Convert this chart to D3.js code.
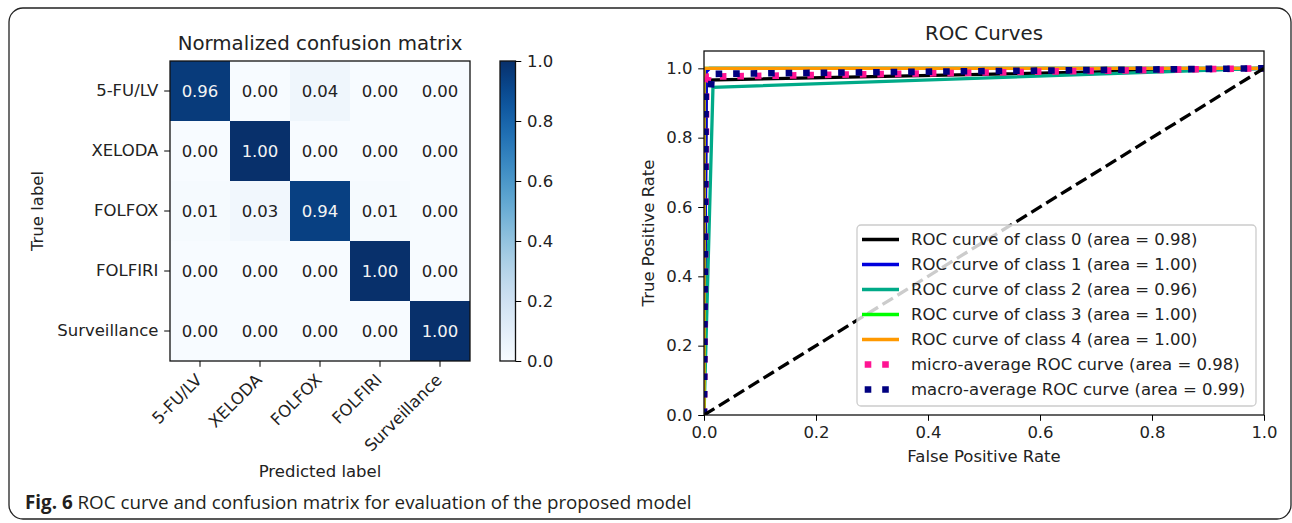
<!DOCTYPE html>
<html>
<head>
<meta charset="utf-8">
<script src="https://cdn.jsdelivr.net/npm/d3@7"></script>
<style>
  body { margin: 0; background: #fff; }
  svg { display: block; }
  text { font-family: "DejaVu Sans", sans-serif; fill: #222; }
</style>
</head>
<body>
<svg id="chart" width="1292" height="523"></svg>
<script>
// confusion matrix data
const classes = ["5-FU/LV", "XELODA", "FOLFOX", "FOLFIRI", "Surveillance"];
const cmValues = [
    [0.96, 0.00, 0.04, 0.00, 0.00],
    [0.00, 1.00, 0.00, 0.00, 0.00],
    [0.01, 0.03, 0.94, 0.01, 0.00],
    [0.00, 0.00, 0.00, 1.00, 0.00],
    [0.00, 0.00, 0.00, 0.00, 1.00]
];
const colorbarTicks = [0, 0.2, 0.4, 0.6, 0.8, 1.0];

// ROC curves, [fpr, tpr] points
const rocClass0 = [[0, 0], [0.004, 0.966], [1, 1]];
const rocClass1 = [[0, 0], [0.004, 0.99], [0.01, 1], [1, 1]];
const rocClass2 = [[0, 0], [0.016, 0.945], [1, 1]];
const rocClass3 = [[0, 0], [0, 1], [1, 1]];
const rocClass4 = [[0, 0], [0, 1], [1, 1]];
const rocMicro = [[0, 0], [0.004, 0.95], [0.008, 0.976], [1, 1]];
const rocMacro = [[0, 0], [0.003, 0.93], [0.012, 0.93], [0.014, 0.984], [1, 1]];
const rocLabels = [
    "ROC curve of class 0 (area = 0.98)",
    "ROC curve of class 1 (area = 1.00)",
    "ROC curve of class 2 (area = 0.96)",
    "ROC curve of class 3 (area = 1.00)",
    "ROC curve of class 4 (area = 1.00)",
    "micro-average ROC curve (area = 0.98)",
    "macro-average ROC curve (area = 0.99)"
];
const rocTicks = [0, 0.2, 0.4, 0.6, 0.8, 1.0];

const svg = d3.select("#chart");
const fs = 16.5, tick = 5.8;

// outer figure frame + caption
svg.append("rect")
    .attr("x", 9).attr("y", 8)
    .attr("width", 1282).attr("height", 511)
    .attr("rx", 14)
    .attr("fill", "none")
    .attr("stroke", "#222")
    .attr("stroke-width", 1.3);

const caption = svg.append("text")
    .attr("x", 25).attr("y", 509)
    .style("font-family", "'Open Sans', sans-serif")
    .style("font-size", "18.8px")
    .style("fill", "#231f20");
caption.append("tspan").attr("font-weight", "bold").text("Fig. 6");
caption.append("tspan").text(" ROC curve and confusion matrix for evaluation of the proposed model");

// ---------- Part 1: confusion matrix ----------
const cm = svg.append("g");
const xCM = d3.scaleBand().domain(classes).range([170, 470]);
const yCM = d3.scaleBand().domain(classes).range([61, 361]);
const blues = d3.scaleSequential(d3.interpolateBlues).domain([0, 1]);

const cells = [];
cmValues.forEach((row, i) => row.forEach((v, j) => cells.push({r: classes[i], c: classes[j], v: v})));

cm.selectAll("rect.cell")
    .data(cells)
    .enter()
    .append("rect")
    .attr("class", "cell")
    .attr("x", d => xCM(d.c))
    .attr("y", d => yCM(d.r))
    .attr("width", xCM.bandwidth())
    .attr("height", yCM.bandwidth())
    .attr("fill", d => blues(d.v));

cm.selectAll("text.val")
    .data(cells)
    .enter()
    .append("text")
    .attr("class", "val")
    .attr("x", d => xCM(d.c) + xCM.bandwidth() / 2)
    .attr("y", d => yCM(d.r) + yCM.bandwidth() / 2)
    .attr("text-anchor", "middle")
    .attr("dominant-baseline", "central")
    .style("font-size", fs + "px")
    .style("fill", d => d.v > 0.5 ? "#f4f4f4" : "#222")
    .text(d => d.v.toFixed(2));

cm.append("rect")
    .attr("x", 170).attr("y", 61).attr("width", 300).attr("height", 300)
    .attr("fill", "none").attr("stroke", "#111").attr("stroke-width", 1.3);

const cmLeft = cm.append("g")
    .attr("transform", "translate(170,0)")
    .call(d3.axisLeft(yCM).tickSize(tick).tickPadding(tick));
cmLeft.select(".domain").remove();
cmLeft.selectAll("text").style("font-size", fs + "px").style("font-family", "DejaVu Sans").attr("fill", "#222");

const cmBottom = cm.append("g")
    .attr("transform", "translate(0,361)")
    .call(d3.axisBottom(xCM).tickSize(tick).tickPadding(tick));
cmBottom.select(".domain").remove();
cmBottom.selectAll("text")
    .style("font-size", fs + "px").style("font-family", "DejaVu Sans").attr("fill", "#222")
    .attr("text-anchor", "end")
    .attr("dy", null)
    .attr("y", null)
    .attr("transform", "translate(3,20) rotate(-45)");

cm.append("text")
    .attr("x", 320).attr("y", 50)
    .attr("text-anchor", "middle")
    .style("font-size", "19.8px")
    .text("Normalized confusion matrix");

cm.append("text")
    .attr("x", 320).attr("y", 477)
    .attr("text-anchor", "middle")
    .style("font-size", fs + "px")
    .text("Predicted label");

cm.append("text")
    .attr("transform", "translate(43,211) rotate(-90)")
    .attr("text-anchor", "middle")
    .style("font-size", fs + "px")
    .text("True label");

// colorbar
const defs = svg.append("defs");
const grad = defs.append("linearGradient")
    .attr("id", "cbar").attr("x1", 0).attr("y1", 1).attr("x2", 0).attr("y2", 0);
d3.range(0, 1.0001, 0.05).forEach(t => {
    grad.append("stop").attr("offset", t).attr("stop-color", blues(t));
});
const yBar = d3.scaleLinear().domain([0, 1]).range([361, 61]);
svg.append("rect")
    .attr("x", 500).attr("y", 61).attr("width", 15.5).attr("height", 300)
    .attr("fill", "url(#cbar)").attr("stroke", "#111").attr("stroke-width", 1.3);
const barAxis = svg.append("g")
    .attr("transform", "translate(515.5,0)")
    .call(d3.axisRight(yBar).tickValues(colorbarTicks).tickFormat(d3.format(".1f")).tickSize(tick).tickPadding(tick));
barAxis.select(".domain").remove();
barAxis.selectAll("text").style("font-size", fs + "px").style("font-family", "DejaVu Sans").attr("fill", "#222");

// ---------- Part 2: ROC curves ----------
const x = d3.scaleLinear().domain([0, 1]).range([704, 1264]);
const y = d3.scaleLinear().domain([0, 1.05]).range([415, 51]);

defs.append("clipPath").attr("id", "plotclip")
    .append("rect").attr("x", 704).attr("y", 51).attr("width", 560).attr("height", 364);

const line = d3.line().x(d => x(d[0])).y(d => y(d[1]));

const series = [
    {data: rocClass0, color: "#000000", width: 3.3, dash: null},
    {data: rocClass1, color: "#0000dd", width: 3.3, dash: null},
    {data: rocClass2, color: "#00aa88", width: 3.3, dash: null},
    {data: rocClass3, color: "#00ff00", width: 3.3, dash: null},
    {data: rocClass4, color: "#ff9900", width: 3.3, dash: null},
    {data: rocMicro, color: "#ff1493", width: 6.6, dash: "6.6,10.9"},
    {data: rocMacro, color: "#000080", width: 6.6, dash: "6.6,10.9"}
];

const plot = svg.append("g").attr("clip-path", "url(#plotclip)");
series.forEach(s => {
    plot.append("path")
        .datum(s.data)
        .attr("fill", "none")
        .attr("stroke", s.color)
        .attr("stroke-width", s.width)
        .attr("stroke-dasharray", s.dash)
        .attr("d", line);
});

// chance diagonal
plot.append("path")
    .datum([[0, 0], [1, 1]])
    .attr("fill", "none")
    .attr("stroke", "#000")
    .attr("stroke-width", 3.3)
    .attr("stroke-dasharray", "12.2,5.3")
    .attr("d", line);

svg.append("rect")
    .attr("x", 704).attr("y", 51).attr("width", 560).attr("height", 364)
    .attr("fill", "none").attr("stroke", "#111").attr("stroke-width", 1.3);

const xAxis = svg.append("g")
    .attr("transform", "translate(0,415)")
    .call(d3.axisBottom(x).tickValues(rocTicks).tickFormat(d3.format(".1f")).tickSize(tick).tickPadding(tick));
xAxis.select(".domain").remove();
xAxis.selectAll("text").style("font-size", fs + "px").style("font-family", "DejaVu Sans").attr("fill", "#222");

const yAxis = svg.append("g")
    .attr("transform", "translate(704,0)")
    .call(d3.axisLeft(y).tickValues(rocTicks).tickFormat(d3.format(".1f")).tickSize(tick).tickPadding(tick));
yAxis.select(".domain").remove();
yAxis.selectAll("text").style("font-size", fs + "px").style("font-family", "DejaVu Sans").attr("fill", "#222");

svg.append("text")
    .attr("x", 984).attr("y", 40)
    .attr("text-anchor", "middle")
    .style("font-size", "19.8px")
    .text("ROC Curves");

svg.append("text")
    .attr("x", 984).attr("y", 462)
    .attr("text-anchor", "middle")
    .style("font-size", fs + "px")
    .text("False Positive Rate");

svg.append("text")
    .attr("transform", "translate(654,233) rotate(-90)")
    .attr("text-anchor", "middle")
    .style("font-size", fs + "px")
    .text("True Positive Rate");

// legend, lower right
const legend = svg.append("g").attr("transform", "translate(857,225)");
legend.append("rect")
    .attr("width", 399).attr("height", 181)
    .attr("rx", 4)
    .attr("fill", "#fff").attr("fill-opacity", 0.8)
    .attr("stroke", "#ccc").attr("stroke-width", 1.3);

series.forEach((s, i) => {
    const ly = 14.5 + i * 25;
    legend.append("line")
        .attr("x1", s.dash ? 7.7 : 5).attr("x2", 42)
        .attr("y1", ly).attr("y2", ly)
        .attr("stroke", s.color)
        .attr("stroke-width", s.width)
        .attr("stroke-dasharray", s.dash);
    legend.append("text")
        .attr("x", 54).attr("y", ly)
        .attr("dominant-baseline", "central")
        .style("font-size", fs + "px")
        .text(rocLabels[i]);
});
</script>
</body>
</html>
